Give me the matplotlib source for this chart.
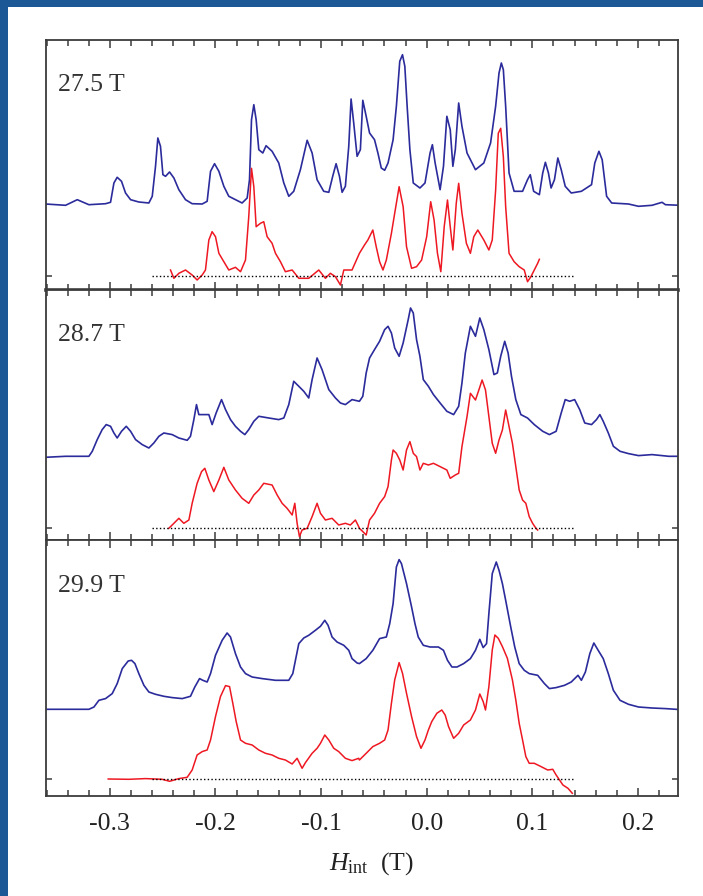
import numpy as np
import matplotlib.pyplot as plt
from matplotlib.patches import Rectangle

plt.rcParams['font.family'] = ['Liberation Serif', 'DejaVu Serif']
plt.rcParams['mathtext.fontset'] = 'custom'
plt.rcParams['mathtext.rm'] = 'Liberation Serif'
plt.rcParams['mathtext.it'] = 'Liberation Serif:italic'

# NMR spectra, intensity in arb. units above each trace's own baseline
# ---- 27.5 T ----
h1_blue = [-0.3609, -0.3420, -0.3309, -0.3199, -0.3041, -0.2994, -0.2962, -0.2931, -0.2890, -0.2852,
           -0.2804, -0.2726, -0.2631, -0.2599, -0.2568, -0.2546, -0.2521, -0.2498, -0.2473, -0.2435,
           -0.2394, -0.2347, -0.2284, -0.2221, -0.2126, -0.2079, -0.2047, -0.2009, -0.1968, -0.1921,
           -0.1874, -0.1811, -0.1748, -0.1700, -0.1678, -0.1659, -0.1637, -0.1615, -0.1590, -0.1552,
           -0.1521, -0.1464, -0.1401, -0.1353, -0.1306, -0.1259, -0.1196, -0.1132, -0.1085, -0.1038,
           -0.0975, -0.0927, -0.0890, -0.0858, -0.0826, -0.0801, -0.0770, -0.0738, -0.0716, -0.0691,
           -0.0659, -0.0628,
           -0.0605, -0.0573, -0.0541, -0.0494, -0.0462, -0.0430, -0.0398, -0.0366, -0.0318, -0.0287,
           -0.0255, -0.0229, -0.0207, -0.0185, -0.0159, -0.0127, -0.0064, -0.0016, 0.0032, 0.0054,
           0.0080, 0.0127, 0.0159, 0.0191, 0.0223, 0.0248, 0.0271, 0.0303, 0.0334, 0.0382, 0.0462,
           0.0541, 0.0605, 0.0653, 0.0685, 0.0707, 0.0726, 0.0748, 0.0780, 0.0828, 0.0908, 0.0955,
           0.0981, 0.1013, 0.1067, 0.1099, 0.1124, 0.1153, 0.1178, 0.1210, 0.1242, 0.1274, 0.1312,
           0.1369, 0.1465, 0.1561, 0.1592, 0.1631, 0.1662, 0.1704, 0.1752, 0.1911, 0.2006, 0.2134,
           0.2229, 0.2261, 0.2404]
i1_blue = [0, -1.3, 4.3, -0.7, 0.3, 1.7, 21, 26.7, 22.7, 11,
           4.3, 2, 1, 7.7, 37.7, 66, 57.7, 29.3, 27.7, 32,
           26, 14.3, 4.3, 0.3, 0, 2.7, 32.7, 40.3, 32.7, 17.7,
           7.7, 4.3, 1, 6, 24.3, 84.3, 99.3, 84.3, 54.3, 51,
           58.3, 52.7, 41, 21, 7.7, 12.7, 34.3, 63.7, 51, 24.3,
           12.7, 11.7, 27.7, 40.3, 27.7, 11.7, 17.7, 57.7, 105, 81,
           47.7, 54.3,
           103.7, 87.7, 71, 64.3, 51, 36, 33.7, 41, 64.3, 97.7,
           142.7, 149.3, 137.7, 97.7, 54.3, 21, 16, 21, 51, 59.3,
           41, 14.3, 37.7, 87.7, 74.3, 37.7, 54.3, 101, 77.7, 51, 34.3,
           41, 61, 97.7, 131, 141, 134.3, 97.7, 31, 12.7, 12.7, 24.3,
           29.3, 12.7, 9.3, 31, 41.7, 31, 16, 24.3, 46, 34.3, 17.7,
           11, 12.7, 19.3, 41, 52.7, 44.3, 7.7, 1, 0, -2.3, -1.3,
           1.7, -0.7, -1.3]
h1_red = [-0.2426, -0.2394, -0.2347, -0.2284, -0.2221, -0.2174, -0.2126, -0.2095, -0.2063, -0.2032,
          -0.2000, -0.1968, -0.1921, -0.1874, -0.1811, -0.1763, -0.1716, -0.1685, -0.1659, -0.1637,
          -0.1615, -0.1574, -0.1543, -0.1511, -0.1464, -0.1432, -0.1385, -0.1338, -0.1274, -0.1211,
          -0.1117, -0.1022, -0.0959, -0.0912, -0.0864, -0.0817, -0.0785, -0.0707,
          -0.0637, -0.0589, -0.0557, -0.0510, -0.0478, -0.0446, -0.0414, -0.0382, -0.0334, -0.0303,
          -0.0261, -0.0223, -0.0191, -0.0143, -0.0096, -0.0048, 0.0, 0.0038, 0.0070, 0.0102,
          0.0134, 0.0166, 0.0197, 0.0223, 0.0248, 0.0280, 0.0303, 0.0334, 0.0376, 0.0414, 0.0446,
          0.0484, 0.0541, 0.0589, 0.0621, 0.0653, 0.0678, 0.0701, 0.0726, 0.0748, 0.0780, 0.0828,
          0.0876, 0.0924, 0.0955, 0.0987, 0.1019, 0.1051, 0.1067]
i1_red = [6, -2.3, 2.7, 6, 1, -4, 1, 6, 36, 44.3,
          39.3, 22.7, 14.3, 6, 8.7, 4.3, 16, 59.3, 107.7, 89.3,
          49.3, 52.7, 54.3, 39.3, 32.7, 22.7, 14.3, 4.3, 6, -2.3,
          -2.3, 6, -2.3, 2.7, -0.7, -9, 6, 6,
          22.7, 31, 36, 46, 29.3, 14.3, 6, 16, 42.7, 62.7,
          89.3, 69.3, 29.3, 7.7, 9.3, 16, 39.3, 74.3, 56, 22.7,
          4.3, 49.3, 76, 49.3, 26, 72.7, 92.7, 62.7, 32.7, 22.7, 39.3,
          46, 36, 26, 36, 86, 142.7, 147.7, 119.3, 69.3, 22.7, 14.3,
          9.3, 6, -5.7, -0.7, 6, 12.7, 16.7]

# ---- 28.7 T ----
h2_blue = [-0.3609, -0.3420, -0.3199, -0.3167, -0.3120, -0.3073, -0.3035, -0.2994, -0.2962, -0.2931,
           -0.2890, -0.2845, -0.2804, -0.2757, -0.2694, -0.2631, -0.2584, -0.2536, -0.2489, -0.2410,
           -0.2347, -0.2268, -0.2237, -0.2205, -0.2180, -0.2158, -0.2110, -0.2063, -0.2032, -0.1994,
           -0.1943, -0.1905, -0.1858, -0.1811, -0.1763, -0.1722, -0.1685, -0.1637, -0.1590, -0.1495,
           -0.1401, -0.1353, -0.1306, -0.1259, -0.1211, -0.1164, -0.1117, -0.1085, -0.1038, -0.0991,
           -0.0927, -0.0864, -0.0817, -0.0770, -0.0707,
           -0.0637, -0.0605, -0.0573, -0.0541, -0.0494, -0.0446, -0.0398, -0.0366, -0.0334, -0.0303,
           -0.0261, -0.0223, -0.0175, -0.0153, -0.0127, -0.0096, -0.0064, -0.0032, 0.0016, 0.0064,
           0.0127, 0.0191, 0.0255, 0.0303, 0.0334, 0.0366, 0.0414, 0.0462, 0.0503, 0.0541, 0.0589,
           0.0637, 0.0669, 0.0701, 0.0739, 0.0771, 0.0803, 0.0844, 0.0892, 0.0955, 0.1019, 0.1099,
           0.1162, 0.1226, 0.1274, 0.1312, 0.1354, 0.1401, 0.1449, 0.1497, 0.1561, 0.1608, 0.1640,
           0.1672, 0.1720, 0.1768, 0.1831, 0.1911, 0.2006, 0.2134, 0.2293, 0.2404]
i2_blue = [-1, 0, 0, 5, 16.7, 26.7, 31.7, 30, 23.3, 18.3,
           25, 30, 25, 16.7, 11.7, 8.3, 13.3, 20, 23.3, 21.7,
           18.3, 16, 20, 36.7, 51.7, 41.7, 41.7, 41.7, 31.7, 43.3,
           56.7, 46.7, 36.7, 30, 25, 21.7, 26.7, 35, 40, 38.3,
           36.7, 38.3, 51.7, 75, 70, 65, 58.3, 76.7, 98.3, 86.7,
           66.7, 58.3, 53.3, 51.7, 56.7,
           55, 60, 83.3, 98.3, 106.7, 115, 126.7, 130, 123.3, 108.3,
           100, 113.3, 136.7, 148.3, 143.3, 116.7, 100, 76.7, 70, 61.7,
           53.3, 45, 41.7, 50, 73.3, 103.3, 130, 120, 138.3, 126.7, 106.7,
           81.7, 83.3, 100, 115, 103.3, 80, 56.7, 41.7, 38.3, 31.7, 25,
           21.7, 25, 43.3, 56.7, 55, 56.7, 46.7, 33.3, 31.7, 36.7, 41.7,
           35, 23.3, 10, 5, 2.7, 0.7, 1.7, 0, 0]
h2_red = [-0.2442, -0.2394, -0.2347, -0.2300, -0.2252, -0.2221, -0.2174, -0.2132, -0.2101, -0.2063,
          -0.2016, -0.1968, -0.1921, -0.1874, -0.1811, -0.1748, -0.1685, -0.1637, -0.1590, -0.1543,
          -0.1464, -0.1416, -0.1369, -0.1322, -0.1274, -0.1249, -0.1227, -0.1205, -0.1180, -0.1132,
          -0.1085, -0.1038, -0.1006, -0.0959, -0.0896, -0.0833, -0.0770, -0.0723, -0.0675, -0.0644,
          -0.0637, -0.0605, -0.0573, -0.0541, -0.0494, -0.0446, -0.0398, -0.0366, -0.0334, -0.0318,
          -0.0287, -0.0255, -0.0223, -0.0191, -0.0159, -0.0127, -0.0096, -0.0064, -0.0032, 0.0016,
          0.0064, 0.0127, 0.0191, 0.0223, 0.0271, 0.0303, 0.0334, 0.0382, 0.0414, 0.0462, 0.0494,
          0.0525, 0.0557, 0.0589, 0.0621, 0.0653, 0.0685, 0.0717, 0.0748, 0.0780, 0.0812, 0.0844,
          0.0876, 0.0908, 0.0939, 0.0971, 0.1003, 0.1035, 0.1051]
i2_red = [0, 5, 10, 5, 8.3, 25, 45, 56.7, 60, 48.3,
          36.7, 48.3, 61, 48.3, 38.3, 30, 25, 33.3, 38.3, 45,
          43.3, 33.3, 25, 20, 13.3, 25, 5, -8.3, -1.7, 0,
          11.7, 25, 15, 8.3, 10, 3.3, 5, 3.3, 8.3, 1.7,
          0, -3.3, -6.7, 8.3, 15, 25, 31.7, 41.7, 68.3, 78.3,
          75, 68.3, 58.3, 78.3, 86.7, 75, 71.7, 58.3, 65, 63.3,
          65, 61.7, 58.3, 50, 53.3, 55, 81.7, 111.7, 135, 128.3, 138.3,
          148.3, 138.3, 111.7, 85, 75, 88.3, 98.3, 118.3, 101.7, 85, 61.7,
          38.3, 28.3, 25, 11.7, 5, 0, -1.7]

# ---- 29.9 T ----
h3_blue = [-0.3609, -0.3199, -0.3151, -0.3104, -0.3041, -0.2978, -0.2931, -0.2883, -0.2827, -0.2795,
           -0.2763, -0.2726, -0.2678, -0.2631, -0.2568, -0.2489, -0.2410, -0.2315, -0.2237, -0.2196,
           -0.2151, -0.2120, -0.2079, -0.2047, -0.2000, -0.1937, -0.1890, -0.1858, -0.1811, -0.1763,
           -0.1716, -0.1653, -0.1558, -0.1432, -0.1306, -0.1268, -0.1243, -0.1211, -0.1164, -0.1117,
           -0.1054, -0.1006, -0.0965, -0.0934, -0.0896, -0.0849, -0.0785, -0.0738, -0.0707, -0.0659,
           -0.0637, -0.0573, -0.0510, -0.0446, -0.0382, -0.0350, -0.0318, -0.0287, -0.0261, -0.0239,
           -0.0191, -0.0143, -0.0111, -0.0080, -0.0032, 0.0032, 0.0111, 0.0159, 0.0197, 0.0239,
           0.0287, 0.0350, 0.0414, 0.0462, 0.0503, 0.0535, 0.0567, 0.0589, 0.0621, 0.0659, 0.0685,
           0.0717, 0.0748, 0.0796, 0.0834, 0.0876, 0.0924, 0.0971, 0.1051, 0.1115, 0.1162, 0.1226,
           0.1306, 0.1369, 0.1433, 0.1465, 0.1503, 0.1545, 0.1583, 0.1624, 0.1672, 0.1720, 0.1768,
           0.1831, 0.1911, 0.2006, 0.2134, 0.2261, 0.2404]
i3_blue = [0, 0, 2.3, 9, 10.7, 15.7, 25.7, 40.7, 48.3, 49,
           45.7, 35.7, 24, 17.3, 15, 13, 11.7, 10.7, 13, 22.3,
           30.7, 29, 27.3, 35.7, 54, 69, 76.3, 72.3, 55.7, 42.3,
           35.7, 32.3, 30.7, 29, 29, 35.7, 49, 65.7, 71.3, 74,
           79, 83, 89, 84, 72.3, 67.3, 64, 59, 50.7, 46.3,
           45.7, 50.7, 59, 70.7, 72.3, 85.7, 105.7, 142.3, 149.7, 145.7,
           125.7, 102.3, 85.7, 72.3, 64, 62.3, 62.3, 59, 49, 42.3,
           42.3, 45.7, 50.7, 59, 70, 61.7, 65.7, 95.7, 135.7, 147.3, 139,
           125.7, 109, 82.3, 62.3, 45.7, 39, 35.7, 34, 25.7, 20.7, 21.7,
           24, 27.3, 34, 29, 37.3, 55.7, 66.3, 59, 50.7, 35.7, 19,
           9, 5, 2.3, 1.3, 0.7, -0.3]
h3_red = [-0.3016, -0.2820, -0.2662, -0.2505, -0.2435, -0.2347, -0.2268, -0.2221, -0.2174, -0.2126,
          -0.2079, -0.2047, -0.2000, -0.1953, -0.1905, -0.1867, -0.1836, -0.1804, -0.1763, -0.1716,
          -0.1653, -0.1590, -0.1527, -0.1464, -0.1401, -0.1338, -0.1274, -0.1227, -0.1180, -0.1148,
          -0.1085, -0.1038, -0.1006, -0.0965, -0.0927, -0.0880, -0.0833, -0.0770, -0.0707, -0.0644,
          -0.0637, -0.0573, -0.0510, -0.0446, -0.0398, -0.0366, -0.0334, -0.0303, -0.0261, -0.0229,
          -0.0191, -0.0143, -0.0096, -0.0054, -0.0016, 0.0016, 0.0048, 0.0096, 0.0143, 0.0175,
          0.0207, 0.0255, 0.0303, 0.0350, 0.0414, 0.0462, 0.0503, 0.0535, 0.0557, 0.0589, 0.0621,
          0.0646, 0.0678, 0.0717, 0.0764, 0.0812, 0.0844, 0.0876, 0.0908, 0.0939, 0.0971, 0.1019,
          0.1083, 0.1146, 0.1194, 0.1226, 0.1258, 0.1290, 0.1338, 0.1379]
i3_red = [0.3, 0, 0.7, 0, -2, 0.7, 2, 9.3, 24.3, 27.7,
          29.3, 39.3, 62.7, 82.7, 93.7, 92.7, 76, 57.7, 39.3, 36,
          34.3, 29.3, 26, 24.3, 21, 19.3, 15.3, 21, 11, 16.7,
          26, 31, 36, 44.3, 39.3, 31, 27.7, 21, 18.7, 21,
          19.3, 26, 32.7, 36, 39.3, 49.3, 76, 99.3, 116.7, 106,
          86, 62.7, 42.7, 31, 39.3, 49.3, 57.7, 66, 69.3, 64.3,
          52.7, 41, 46, 54.3, 59.3, 69.3, 85.3, 77.7, 69.3, 92.7, 129.3,
          144.3, 141, 132.7, 121, 99.3, 79.3, 56, 39.3, 22.7, 16, 16,
          12.7, 9.3, 10, 4.3, -0.7, -5.7, -9, -14]

fields = ['27.5 T', '28.7 T', '29.9 T']
blue_h = [h1_blue, h2_blue, h3_blue]
blue_i = [i1_blue, i2_blue, i3_blue]
red_h = [h1_red, h2_red, h3_red]
red_i = [i1_red, i2_red, i3_red]
blue_offset = [72, 72, 70]
ylims = [(-14, 236), (-11.7, 238.3), (-16.7, 239.3)]
base_range = [-0.26, 0.1385]

W, H = 703, 896
fig = plt.figure(figsize=(W / 100, H / 100), dpi=100)
fig.patch.set_facecolor('#1d5896')
fig.patches.append(Rectangle((8 / W, 0), 1, 1 - 7 / H, transform=fig.transFigure,
                             facecolor='white', edgecolor='none', zorder=-10))

left, right = 45.7, 678
tops = [40, 290, 540]
bots = [290, 540, 796]
frame = '#3c3c3c'

for k in range(3):
    ax = fig.add_axes([left / W, 1 - bots[k] / H, (right - left) / W, (bots[k] - tops[k]) / H])
    ax.plot(blue_h[k], np.array(blue_i[k]) + blue_offset[k], color='#2b2b9c', lw=1.2)
    ax.plot(red_h[k], red_i[k], color='#ee1822', lw=1.1)
    ax.plot(base_range, [0, 0], color='black', lw=1.0, ls=':')
    ax.set_xlim(-0.3608, 0.238)
    ax.set_ylim(*ylims[k])
    ax.set_xticks(np.arange(-0.3, 0.21, 0.1))
    ax.set_xticks(np.arange(-0.36, 0.24, 0.02), minor=True)
    ax.set_yticks([0])
    ax.tick_params(which='both', direction='in', top=True, right=True, color=frame, width=1.1)
    ax.tick_params(which='major', length=6)
    ax.tick_params(which='minor', length=4)
    ax.tick_params(axis='y', length=4, labelleft=False)
    for s in ax.spines.values():
        s.set_color(frame)
        s.set_linewidth(1.3)
    if k == 0:
        ax.spines['bottom'].set_linewidth(2.6)
    if k < 2:
        ax.tick_params(axis='x', labelbottom=False)
    else:
        ax.set_xticklabels(['-0.3', '-0.2', '-0.1', '0.0', '0.1', '0.2'])
        ax.tick_params(axis='x', labelsize=18.5, labelcolor='#222222', pad=12)
    ax.text(0.02, 0.795, fields[k], transform=ax.transAxes, fontsize=18.5,
            color='#333333', va='baseline', ha='left')

fig.text(371.5 / W, 1 - 870 / H, r'$H_{\mathrm{int}}$  (T)', fontsize=18.5,
         color='#222222', ha='center', va='baseline')

fig.savefig('out.png', dpi=100, facecolor=fig.get_facecolor())
